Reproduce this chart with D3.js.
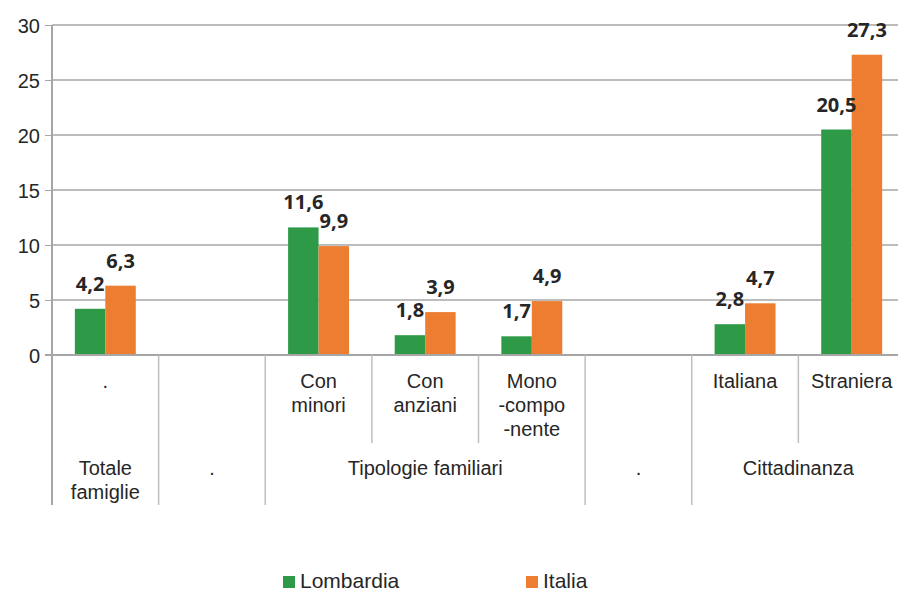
<!DOCTYPE html>
<html>
<head>
<meta charset="utf-8">
<script src="https://cdn.jsdelivr.net/npm/d3@7"></script>
<style>
  body { margin: 0; background: #fff; }
  text { font-family: "Liberation Sans", Arial, sans-serif; fill: #262626; }
</style>
</head>
<body>
<script>
// categories (one per slot), lines of the label
var categories = [["."], [], ["Con", "minori"], ["Con", "anziani"], ["Mono", "-compo", "-nente"], [], ["Italiana"], ["Straniera"]];
// outer groups and how many slots each covers
var groupLabels = [["Totale", "famiglie"], ["."], ["Tipologie familiari"], ["."], ["Cittadinanza"]];
var groupSizes = [1, 1, 3, 1, 2];
var seriesNames = ["Lombardia", "Italia"];
var lombardia = [4.2, null, 11.6, 1.8, 1.7, null, 2.8, 20.5];
var italia = [6.3, null, 9.9, 3.9, 4.9, null, 4.7, 27.3];
var yTicks = [0, 5, 10, 15, 20, 25, 30];

var colors = {"Lombardia": "#2e9a48", "Italia": "#ed7d31"};
var width = 898, height = 592;
var plotLeft = 52, plotRight = 905, plotTop = 25, base = 355;
var row1Bottom = 443, row2Bottom = 505;

var svg = d3.select("body").append("svg")
    .attr("width", width)
    .attr("height", height);

var idx = d3.range(categories.length);
var x0 = d3.scaleBand().domain(idx).range([plotLeft, plotRight]).padding(0);
var x1 = d3.scaleBand().domain(seriesNames).range([0, x0.bandwidth()]).paddingInner(0).paddingOuter(0.75);
var y = d3.scaleLinear().domain([0, 30]).range([base, plotTop]);

// gridlines + tick labels
var yAxis = d3.axisLeft(y).tickValues(yTicks).tickSize(7).tickFormat(d3.format("d"));
var ga = svg.append("g").attr("transform", "translate(" + plotLeft + ",0)").call(yAxis);
ga.select(".domain").remove();
ga.selectAll(".tick line").attr("stroke", "#a6a6a6");
ga.selectAll(".tick text")
    .attr("x", -12)
    .attr("dy", "0.36em")
    .style("font-size", "20px")
    .style("font-family", "Liberation Sans, Arial, sans-serif")
    .attr("fill", "#262626");

svg.append("g").selectAll("line")
    .data(yTicks.filter(function(d){ return d > 0; }))
    .enter().append("line")
    .attr("x1", plotLeft).attr("x2", width)
    .attr("y1", function(d){ return y(d); })
    .attr("y2", function(d){ return y(d); })
    .attr("stroke", "#a6a6a6")
    .attr("stroke-width", 1.3);

// bars
var rows = [];
idx.forEach(function(i){
    if (lombardia[i] != null) rows.push({i: i, s: "Lombardia", v: lombardia[i]});
    if (italia[i] != null) rows.push({i: i, s: "Italia", v: italia[i]});
});

svg.append("g").selectAll("rect")
    .data(rows)
    .enter().append("rect")
    .attr("x", function(d){ return x0(d.i) + x1(d.s); })
    .attr("y", function(d){ return y(d.v); })
    .attr("width", x1.bandwidth())
    .attr("height", function(d){ return base - y(d.v); })
    .attr("fill", function(d){ return colors[d.s]; });

svg.append("g").selectAll("text")
    .data(rows)
    .enter().append("text")
    .attr("x", function(d){ return x0(d.i) + x1(d.s) + x1.bandwidth() / 2; })
    .attr("y", function(d){ return y(d.v) - 18; })
    .attr("text-anchor", "middle")
    .style("font-family", "'Open Sans', sans-serif")
    .style("font-weight", "700")
    .style("font-size", "20px")
    .text(function(d){ return d3.format(".1f")(d.v).replace(".", ","); });

// axes lines
svg.append("line")
    .attr("x1", plotLeft - 7).attr("x2", width)
    .attr("y1", base).attr("y2", base)
    .attr("stroke", "#a6a6a6").attr("stroke-width", 2);
svg.append("line")
    .attr("x1", plotLeft).attr("x2", plotLeft)
    .attr("y1", plotTop).attr("y2", row2Bottom)
    .attr("stroke", "#a6a6a6").attr("stroke-width", 2);

// separators
var groupEnds = [];
var acc = 0;
groupSizes.forEach(function(n){ acc += n; groupEnds.push(acc); });
d3.range(1, categories.length + 1).forEach(function(k){
    var full = groupEnds.indexOf(k) >= 0;
    var xx = plotLeft + k * x0.step();
    svg.append("line")
        .attr("x1", xx).attr("x2", xx)
        .attr("y1", base).attr("y2", full ? row2Bottom : row1Bottom)
        .attr("stroke", "#bfbfbf").attr("stroke-width", 1.5);
});

// category labels (row 1)
var lab1 = svg.append("g").selectAll("text")
    .data(idx)
    .enter().append("text")
    .attr("text-anchor", "middle")
    .style("font-size", "20px")
    .attr("x", function(i){ return x0(i) + x0.bandwidth() / 2; })
    .attr("y", 388);
lab1.selectAll("tspan")
    .data(function(i){ return categories[i]; })
    .enter().append("tspan")
    .attr("x", function(){ var i = d3.select(this.parentNode).datum(); return x0(i) + x0.bandwidth() / 2; })
    .attr("dy", function(d, j){ return j ? 24 : 0; })
    .text(function(d){ return d; });

// group labels (row 2)
var start = 0;
groupLabels.forEach(function(lines, g){
    var cx = plotLeft + (start + groupSizes[g] / 2) * x0.step();
    start += groupSizes[g];
    var t = svg.append("text")
        .attr("text-anchor", "middle")
        .style("font-size", "20px")
        .attr("x", cx)
        .attr("y", 475);
    lines.forEach(function(l, j){
        t.append("tspan").attr("x", cx).attr("dy", j ? 24 : 0).text(l);
    });
});

// legend
var legendX = [283, 526];
seriesNames.forEach(function(s, k){
    var g = svg.append("g").attr("transform", "translate(" + legendX[k] + ",576)");
    g.append("rect").attr("width", 12).attr("height", 12).attr("fill", colors[s]);
    g.append("text").attr("x", 17).attr("y", 12)
        .style("font-size", "21px")
        .text(s);
});
</script>
</body>
</html>
